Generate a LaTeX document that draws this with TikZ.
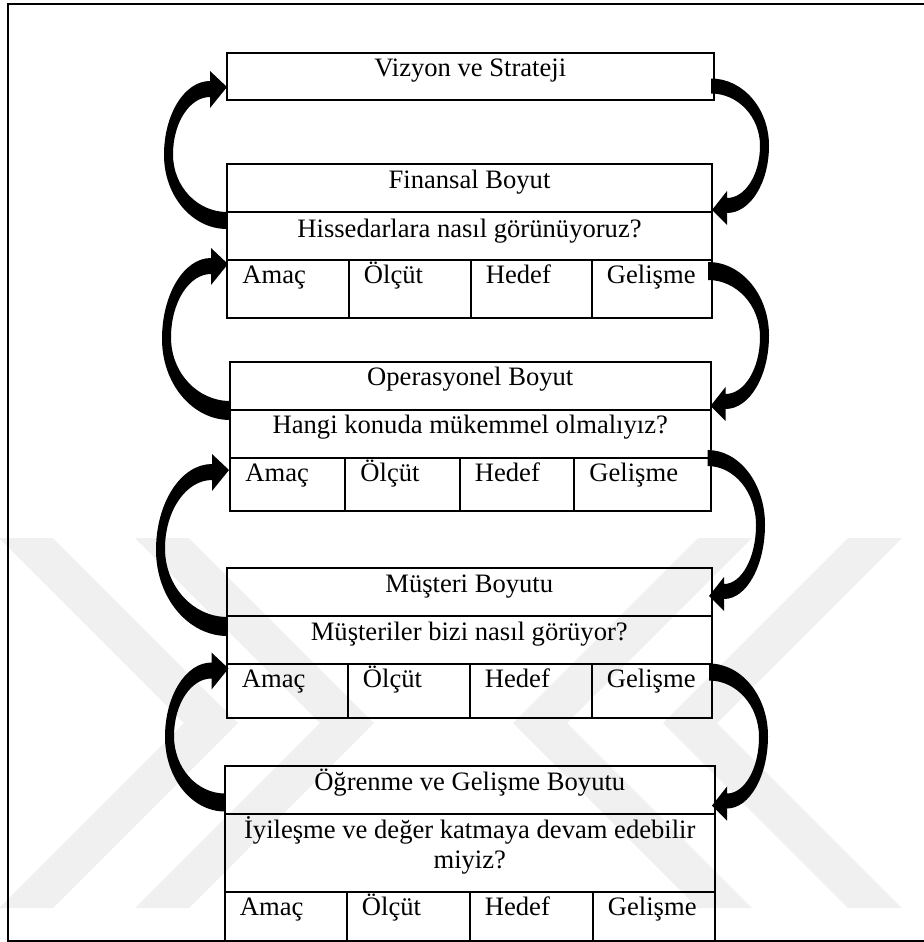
\documentclass[tikz,border=0pt]{standalone}
\usepackage{fontspec}
\setmainfont{Liberation Serif}
\usetikzlibrary{calc}

% one table cell, given its corners in px (y grows downwards)
\newcommand{\tcell}[5]{%
  \node[cell, minimum width={(#4-(#2))*0.5pt}, minimum height={(#5-(#3))*0.5pt}] (#1) at (#2,#3) {};}

% the four labels of a bottom row
\newcommand{\kpirow}[1]{%
  \node[lbl] (#1-a-x) at ($(#1-a.north west)+(15,23.5)$) {Amaç};
  \node[lbl] (#1-o-x) at ($(#1-o.north west)+(15,23.5)$) {Ölçüt};
  \node[lbl] (#1-h-x) at ($(#1-h.north west)+(15,23.5)$) {Hedef};
  \node[lbl] (#1-g-x) at ($(#1-g.north west)+(15,23.5)$) {Gelişme};}

% thick curved arrow on the left: from the lower box (#1, top of the tail)
% up to the upper box (#2, tip); #3 = leftmost x of the bend, #4 = tail thickness
\newcommand{\upcurve}[4]{%
  \path (#1); \pgfgetlastxy{\aTx}{\aTy}%
  \path (#2); \pgfgetlastxy{\aQx}{\aQy}%
  \pgfmathsetmacro\aXt{2*\aTx}\pgfmathsetmacro\aYt{-2*\aTy}%
  \pgfmathsetmacro\aXq{2*\aQx}\pgfmathsetmacro\aYq{-2*\aQy}%
  \pgfmathsetmacro\aXo{#3}\pgfmathsetmacro\aYb{\aYt+#4}%
  \pgfmathsetmacro\aXh{\aXq-17}%
  \pgfmathsetmacro\aYho{\aYq-6}\pgfmathsetmacro\aYhi{\aYq+10}%
  \pgfmathsetmacro\aYm{(\aYb+\aYho)/2}%
  \pgfmathsetmacro\aXi{\aXo+9}\pgfmathsetmacro\aYmi{(\aYhi+\aYt)/2}%
  \fill[loopfill] (\aXt,\aYb)
    .. controls ({\aXt-0.552*(\aXt-\aXo)},\aYb) and (\aXo,{\aYm+0.552*(\aYb-\aYm)}) .. (\aXo,\aYm)
    .. controls (\aXo,{\aYm-0.552*(\aYm-\aYho)}) and ({\aXh-0.552*(\aXh-\aXo)},\aYho) .. (\aXh,\aYho)
    -- (\aXh,{\aYq-16}) -- (\aXq,\aYq) -- (\aXh,{\aYq+21}) -- (\aXh,\aYhi)
    .. controls ({\aXh-0.552*(\aXh-\aXi)},\aYhi) and (\aXi,{\aYmi-0.552*(\aYmi-\aYhi)}) .. (\aXi,\aYmi)
    .. controls (\aXi,{\aYmi+0.552*(\aYt-\aYmi)}) and ({\aXt-0.552*(\aXt-\aXi)},\aYt) .. (\aXt,\aYt)
    -- cycle;}

% thick curved arrow on the right: from the upper box (#1, top of the tail)
% down to the lower box (#2, tip); #3 = rightmost x of the bend, #4 = tail thickness
\newcommand{\downcurve}[4]{%
  \path (#1); \pgfgetlastxy{\aTx}{\aTy}%
  \path (#2); \pgfgetlastxy{\aQx}{\aQy}%
  \pgfmathsetmacro\aXt{2*\aTx}\pgfmathsetmacro\aYt{-2*\aTy}%
  \pgfmathsetmacro\aXq{2*\aQx}\pgfmathsetmacro\aYq{-2*\aQy}%
  \pgfmathsetmacro\aXo{#3}\pgfmathsetmacro\aYb{\aYt+#4}%
  \pgfmathsetmacro\aXh{\aXq+15}%
  \pgfmathsetmacro\aYho{\aYq+3}\pgfmathsetmacro\aYhi{\aYq-12}%
  \pgfmathsetmacro\aYm{(\aYt+\aYho)/2}%
  \pgfmathsetmacro\aXi{\aXo-9}\pgfmathsetmacro\aYmi{(\aYb+\aYhi)/2}%
  \fill[loopfill] (\aXt,\aYt)
    .. controls ({\aXt+0.552*(\aXo-\aXt)},\aYt) and (\aXo,{\aYm-0.552*(\aYm-\aYt)}) .. (\aXo,\aYm)
    .. controls (\aXo,{\aYm+0.552*(\aYho-\aYm)}) and ({\aXh+0.552*(\aXo-\aXh)},\aYho) .. (\aXh,\aYho)
    -- (\aXh,{\aYq+15}) -- (\aXq,\aYq) -- (\aXh,{\aYq-19}) -- (\aXh,\aYhi)
    .. controls ({\aXh+0.552*(\aXi-\aXh)},\aYhi) and (\aXi,{\aYmi+0.552*(\aYhi-\aYmi)}) .. (\aXi,\aYmi)
    .. controls (\aXi,{\aYmi-0.552*(\aYmi-\aYb)}) and ({\aXt+0.552*(\aXi-\aXt)},\aYb) .. (\aXt,\aYb)
    -- cycle;}

\begin{document}
\begin{tikzpicture}[x=0.5pt, y=-0.5pt,
  cell/.style={draw, line width=1pt, inner sep=0pt, outer sep=0pt, anchor=north west},
  txt/.style={font=\fontsize{13.3}{15}\selectfont, inner sep=0pt, anchor=base},
  lbl/.style={txt, anchor=base west},
  loopfill/.style={fill=black},
  frame/.style={line width=1pt},
  emblem/.style={fill=black!6}]
\useasboundingbox (0,0) rectangle (924,942);

% pale background emblem: two chevrons on each side, facing each other
\fill[emblem] (-1,538) -- (53,538) -- (238,723) -- (53,908) -- (-1,908) -- (184,723) -- cycle;
\fill[emblem] (135,538) -- (189,538) -- (374,723) -- (189,908) -- (135,908) -- (320,723) -- cycle;
\fill[emblem] (698,538) -- (752,538) -- (567,723) -- (752,908) -- (698,908) -- (513,723) -- cycle;
\fill[emblem] (848,538) -- (902,538) -- (717,723) -- (902,908) -- (848,908) -- (663,723) -- cycle;

% outer frame (its right side lies outside the page)
\draw[frame] (930,4) -- (7.5,4) -- (7.5,940.5) -- (930,940.5);

% vision box
\tcell{viz}{226.5}{52.5}{714}{100}
\node[txt] (viz-x) at ($(viz.north)+(0,24)$) {Vizyon ve Strateji};

% financial perspective
\tcell{fin-t}{227}{164}{712}{212}
\tcell{fin-q}{227}{212}{712}{260}
\tcell{fin-a}{227}{260}{348.5}{318}
\tcell{fin-o}{348.5}{260}{470.5}{318}
\tcell{fin-h}{470.5}{260}{591.5}{318}
\tcell{fin-g}{591.5}{260}{712}{318}
\node[txt] (fin-t-x) at ($(fin-t.north)+(0,24)$) {Finansal Boyut};
\node[txt] (fin-q-x) at ($(fin-q.north)+(0,25)$) {Hissedarlara nasıl görünüyoruz?};
\kpirow{fin}

% operational perspective
\tcell{opr-t}{230}{362}{710.5}{410}
\tcell{opr-q}{230}{410}{710.5}{458}
\tcell{opr-a}{230}{458}{345}{511}
\tcell{opr-o}{345}{458}{459.5}{511}
\tcell{opr-h}{459.5}{458}{574}{511}
\tcell{opr-g}{574}{458}{710.5}{511}
\node[txt] (opr-t-x) at ($(opr-t.north)+(0,23.5)$) {Operasyonel Boyut};
\node[txt] (opr-q-x) at ($(opr-q.north)+(0,23.5)$) {Hangi konuda mükemmel olmalıyız?};
\kpirow{opr}

% customer perspective
\tcell{mus-t}{226.5}{568}{712}{616}
\tcell{mus-q}{226.5}{616}{712}{663.5}
\tcell{mus-a}{226.5}{663.5}{347.5}{717.5}
\tcell{mus-o}{347.5}{663.5}{469.5}{717.5}
\tcell{mus-h}{469.5}{663.5}{591.5}{717.5}
\tcell{mus-g}{591.5}{663.5}{712}{717.5}
\node[txt] (mus-t-x) at ($(mus-t.north)+(0,24)$) {Müşteri Boyutu};
\node[txt] (mus-q-x) at ($(mus-q.north)+(0,24)$) {Müşteriler bizi nasıl görüyor?};
\kpirow{mus}

% learning and growth perspective
\tcell{ogr-t}{224.5}{765.5}{715}{813.5}
\tcell{ogr-q}{224.5}{813.5}{715}{892}
\tcell{ogr-a}{224.5}{892}{346.5}{940.5}
\tcell{ogr-o}{346.5}{892}{469.5}{940.5}
\tcell{ogr-h}{469.5}{892}{592.5}{940.5}
\tcell{ogr-g}{592.5}{892}{715}{940.5}
\node[txt] (ogr-t-x) at ($(ogr-t.north)+(0,24.5)$) {Öğrenme ve Gelişme Boyutu};
\node[txt] (ogr-q-x1) at ($(ogr-q.north)+(0,25)$) {İyileşme ve değer katmaya devam edebilir};
\node[txt] (ogr-q-x2) at ($(ogr-q.north)+(0,55)$) {miyiz?};
\kpirow{ogr}

% upward loops on the left
\upcurve{fin-q.north west}{$(viz.south west)+(0.5,-13)$}{164}{17}
\upcurve{$(opr-q.north west)+(0,-9)$}{$(fin-a.north west)+(1,4)$}{162}{19}
\upcurve{$(mus-q.north west)+(1,1)$}{$(opr-a.north west)+(-1,12)$}{156}{19}
\upcurve{$(ogr-q.north west)+(0.5,-20)$}{$(mus-a.north west)+(2,5)$}{165}{18}

% downward loops on the right
\downcurve{$(viz.north east)+(-3,26)$}{$(fin-q.north east)+(0,-2)$}{769}{15}
\downcurve{$(fin-g.north east)+(-4,2)$}{$(opr-q.north east)+(0,-4)$}{769}{18}
\downcurve{$(opr-g.north east)+(-3,-8)$}{$(mus-q.north east)+(-3,-20)$}{765}{16}
\downcurve{$(mus-g.north east)+(-3,0)$}{$(ogr-q.north east)+(-3,-8)$}{768}{17}
\end{tikzpicture}
\end{document}
